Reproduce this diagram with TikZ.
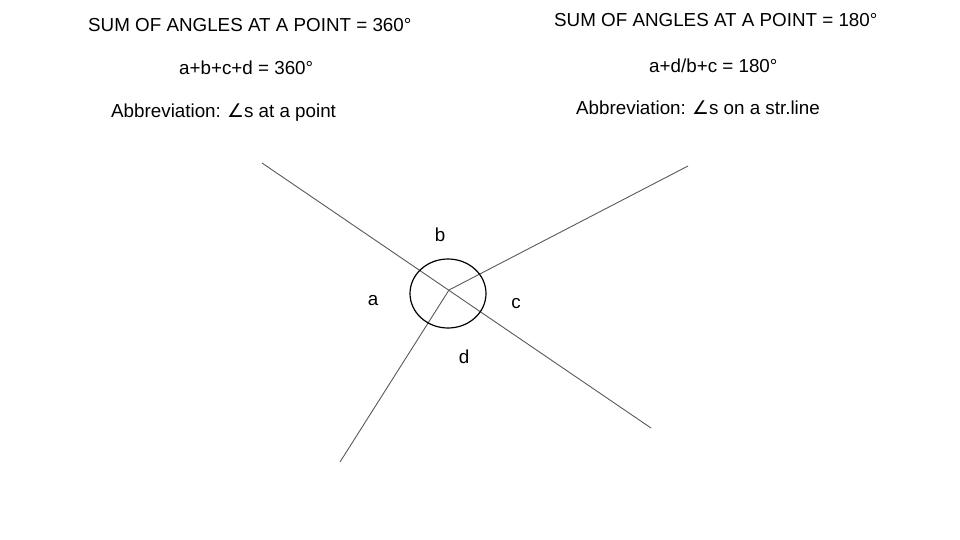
\documentclass[tikz,border=0pt]{standalone}
\usepackage{fontspec}
\setmainfont{Liberation Sans}
\newfontfamily\symfont{DejaVu Sans}
\usetikzlibrary{calc}
\tikzset{
  txt/.style={anchor=base west,inner sep=0pt,font=\fontsize{18.8}{22}\selectfont},
  lbl/.style={anchor=base,inner sep=0pt,font=\fontsize{18.8}{22}\selectfont},
  ray/.style={draw=black!65,line width=0.9pt}
}
\newcommand{\angsym}{{\symfont\char"2220}}

\begin{document}
\begin{tikzpicture}[x=1pt,y=-1pt]
  \useasboundingbox (0,0) rectangle (960,540);
  \node[txt] (sumL) at (88,32) {SUM OF ANGLES AT A POINT = 360\textdegree};
  \node[txt] (eqL) at (179,75) {a+b+c+d = 360\textdegree};
  \node[txt] (abbL) at (111,118) {Abbreviation:\ \kern1pt\angsym s at a point};
  \node[txt] (sumR) at (554,27) {SUM OF ANGLES AT A POINT = 180\textdegree};
  \node[txt] (eqR) at (649,73) {a+d/b+c = 180\textdegree};
  \node[txt] (abbR) at (576,115) {Abbreviation:\ \kern1pt\angsym s on a str.line};
  \coordinate (O) at (449,290);
  \coordinate (P1) at (262,163);
  \coordinate (P2) at (651,428);
  \coordinate (P3) at (688,166);
  \coordinate (P4) at (340,462);
  \draw[ray] (P1) -- (P2);
  \draw[ray] (O) -- (P3);
  \draw[ray] (O) -- (P4);
  \draw[line width=1.2pt] (448,293.5) ellipse[x radius=38,y radius=34.5];
  \node[lbl] (la) at (373,305) {a};
  \node[lbl] (lb) at (440,241) {b};
  \node[lbl] (lc) at (516,308) {c};
  \node[lbl] (ld) at (464,363) {d};
\end{tikzpicture}
\end{document}
